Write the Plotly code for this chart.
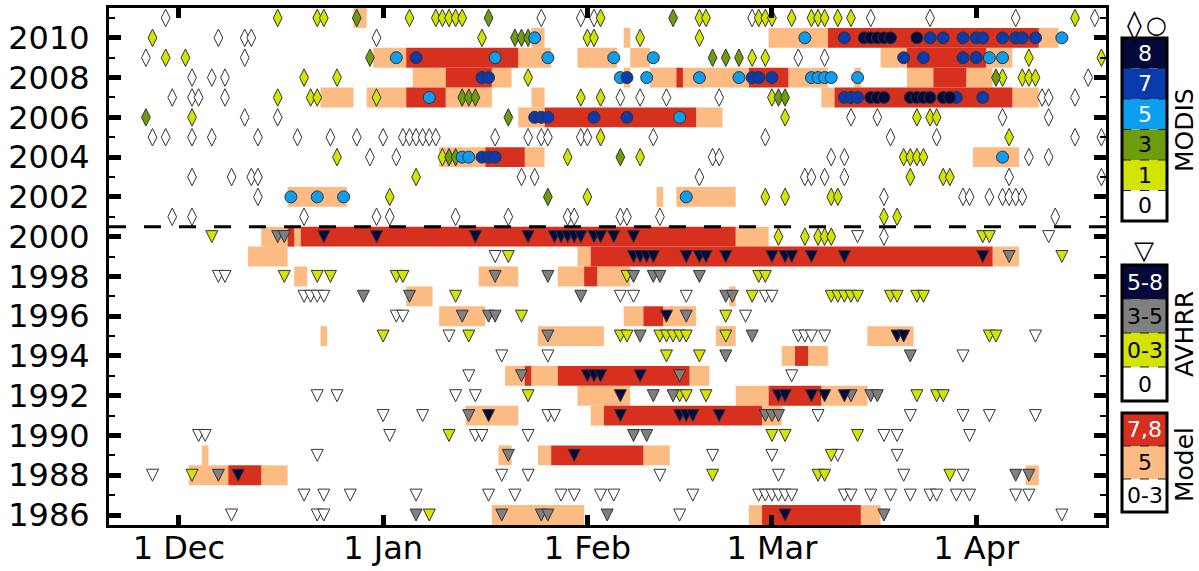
import plotly.graph_objects as go

# ---------------- data (x = days since 1 Dec, y = season year) ----------------
# MODIS classes (diamonds 0/1/3, circles 5/7/8)
modis_0 = {
    2011: [-2, 55, 61, 63, 87, 105, 114, 127, 139],
    2010: [6, 10, 11, 30],
    2009: [-5, 10, 94, 98],
    2008: [2, 5, 7, 138],
    2007: [-1, 2, 3, 7, 67, 70, 74, 82, 131, 132, 136],
    2006: [10, 15, 102, 106, 125, 132],
    2005: [-4, -2, 2, 5, 12, 18, 23, 27, 31, 34, 35, 36, 37, 38, 39, 48, 53, 55, 56,
           61, 62, 72, 89, 108, 115, 136, 140],
    2004: [29, 33, 81, 82, 99, 101, 129, 132],
    2003: [2, 8, 11, 12, 52, 54, 79, 95, 96, 98, 101, 126, 140],
    2002: [12, 107, 119, 120, 123, 125, 126, 127, 128],
    2001: [-1, 2, 19, 30, 32, 42, 50, 59, 60, 67, 68, 73, 133],
    2000: [107],
}
modis_1 = {
    2011: [15, 21, 22, 35, 39, 40, 41, 42, 43, 64, 79, 80, 88, 89, 90, 93, 96, 97, 98,
           100, 102, 136],
    2010: [-4, 46, 62, 63, 70, 79],
    2009: [-2, 1, 87, 89, 129, 140],
    2008: [19, 24, 53, 125, 128, 129, 130],
    2007: [15, 20, 21, 30, 61, 64, 90],
    2006: [2, 92, 112, 114, 115],
    2005: [64, 126],
    2004: [24, 40, 59, 70, 110, 111, 112, 113],
    2003: [36, 111, 116, 117],
    2002: [32, 62, 89, 92, 99, 100],
    2001: [107, 109],
    2000: [91, 95, 97, 98, 99],
}
modis_3 = {
    2011: [27, 47, 75],
    2010: [51, 52, 53],
    2009: [29, 81, 83, 85],
    2008: [124],
    2007: [43, 44, 45, 91, 92],
    2006: [-5, 50],
    2004: [41, 42, 67],
    2002: [56],
}
modis_5 = {
    2010: [54, 95, 134],
    2009: [33, 48, 56, 66, 72, 123, 125],
    2008: [67, 71, 79, 85, 96, 97, 98, 99, 103],
    2007: [38],
    2006: [76],
    2004: [43, 44, 125],
    2002: [17, 21, 25, 77],
}
modis_7 = {
    2010: [101, 114, 116, 119, 121, 122, 125, 127, 128, 130],
    2009: [36, 110, 113, 119, 121],
    2008: [46, 47, 68, 87, 88, 90],
    2007: [101, 102, 103, 118, 122],
    2006: [54, 55, 56, 63, 68],
    2004: [46, 47, 48],
}
modis_8 = {
    2010: [104, 105, 106, 107, 108, 112],
    2007: [105, 106, 107, 111, 112, 113, 114, 116, 117],
}

# AVHRR classes (triangles)
avhrr_0 = {
    2000: [103, 132],
    1999: [48],
    1998: [6, 7],
    1997: [19, 20, 21, 22, 67, 69, 77, 89, 90],
    1996: [33, 34, 86],
    1995: [41, 94, 95, 96, 98, 130],
    1994: [49, 56, 119],
    1993: [44, 93],
    1992: [21, 24, 42, 45],
    1991: [31, 37, 56, 57, 97, 111, 119, 123, 130],
    1990: [3, 4, 32, 45, 46, 53, 107, 109, 120],
    1989: [21, 81, 90, 100, 109],
    1988: [-4, 49, 53, 73, 91, 110, 119],
    1987: [19, 22, 26, 36, 47, 51, 58, 60, 64, 66, 78, 88, 89, 90, 91, 92, 93, 101, 102,
           105, 108, 111, 114, 115, 118, 120, 127, 129],
    1986: [8, 21, 22, 76, 134],
}
avhrr_03 = {
    2000: [5, 122, 123],
    1999: [50, 134],
    1998: [16, 21, 23, 33, 34, 68, 88, 89],
    1997: [42, 87, 99, 100, 101, 102, 103, 108, 109, 112, 113],
    1996: [52, 83],
    1995: [31, 44, 67, 68, 73, 74, 75, 76, 77, 83, 123, 124],
    1994: [74, 79],
    1992: [53, 76, 77, 80, 112, 115, 116],
    1990: [41, 90, 92, 103],
    1989: [99],
    1988: [2, 81, 97, 98, 117],
    1986: [38],
}
avhrr_35 = {
    2000: [15, 16],
    1999: [126],
    1998: [48, 56, 69, 72, 73, 79],
    1997: [28, 35, 61, 83, 84],
    1996: [43, 47, 48, 77],
    1995: [56, 70, 87],
    1994: [83, 111],
    1993: [52, 76],
    1992: [72, 75, 102, 105, 106],
    1991: [44, 89, 90, 91],
    1990: [69, 71],
    1989: [50],
    1988: [6, 127, 129],
    1986: [36, 49, 55, 56, 65, 107],
}
avhrr_58 = {
    2000: [22, 30, 45, 53, 57, 58, 59, 60, 61, 63, 64, 66, 69],
    1999: [69, 70, 71, 72, 77, 79, 80, 83, 90, 92, 93, 96, 101, 122],
    1996: [74],
    1995: [109, 110],
    1993: [62, 63, 64, 70],
    1992: [67, 91, 92, 96, 98, 101],
    1991: [47, 67, 76, 77, 78, 82],
    1989: [60],
    1988: [9],
    1986: [92],
}

# Model classes: inclusive day ranges
model_5 = {
    2011: [(27, 28)],
    2010: [(54, 55), (68, 68), (90, 98), (131, 133)],
    2009: [(30, 34), (52, 56), (61, 66), (69, 71), (107, 110), (123, 126)],
    2008: [(36, 40), (48, 50), (68, 68), (72, 75), (77, 86), (93, 98), (103, 103),
           (111, 114), (120, 123)],
    2007: [(22, 26), (29, 34), (41, 47), (54, 55), (98, 99), (127, 130)],
    2006: [(52, 55), (79, 82)],
    2004: [(40, 46), (53, 55), (121, 127)],
    2002: [(17, 25), (73, 73), (76, 84)],
    2000: [(13, 16), (18, 18), (85, 89)],
    1999: [(11, 16), (61, 62), (124, 127)],
    1998: [(18, 19), (46, 51), (58, 61), (64, 68)],
    1997: [(35, 38), (84, 84)],
    1996: [(40, 46), (68, 70), (74, 78)],
    1995: [(22, 22), (55, 64), (82, 84), (105, 111)],
    1994: [(92, 93), (96, 98)],
    1993: [(50, 52), (54, 57), (78, 80)],
    1992: [(61, 68), (85, 89), (98, 104)],
    1991: [(44, 51), (63, 64), (89, 91)],
    1989: [(4, 4), (49, 50), (55, 56), (71, 74)],
    1988: [(2, 7), (13, 16), (129, 130)],
    1986: [(48, 61), (87, 88), (104, 106)],
}
model_78 = {
    2010: [(99, 130)],
    2009: [(35, 51), (111, 122)],
    2008: [(41, 47), (76, 76), (87, 92), (115, 119)],
    2007: [(35, 40), (100, 126)],
    2006: [(56, 78)],
    2004: [(47, 52)],
    2000: [(17, 17), (19, 84)],
    1999: [(63, 123)],
    1998: [(62, 63)],
    1996: [(71, 73)],
    1994: [(94, 95)],
    1993: [(53, 53), (58, 77)],
    1992: [(90, 97)],
    1991: [(65, 88)],
    1989: [(57, 70)],
    1988: [(8, 12)],
    1986: [(89, 103)],
}

month_ticks = [0, 31, 62, 90, 121]
month_labels = ["1 Dec", "1 Jan", "1 Feb", "1 Mar", "1 Apr"]
sensor_break = 2000.5

# ---------------- styling ----------------
NAVY = "#05083a"
BLUE7 = "#0b3aac"
LBLUE = "#0c9ef0"
OLIVE = "#6e9c0c"
YELLOW = "#d3e400"
GRAY = "#808080"
RED = "#d7301f"
PEACH = "#fdbb84"
EDGE = "#333333"
FONT = "DejaVu Sans"

W, H = 1199, 571
ML, MR, MT, MB = 109, 93, 8, 46
PW = W - ML - MR
PH = H - MT - MB


def fx(px):
    return (px - ML) / PW


def fy(py):
    return (H - MB - py) / PH


fig = go.Figure()


def bar_trace(segs, color):
    ys, bases, lens = [], [], []
    for yr, lst in segs.items():
        for s, e in lst:
            ys.append(yr)
            bases.append(s - 0.5)
            lens.append(e - s + 1)
    return go.Bar(y=ys, x=lens, base=bases, orientation="h", width=1.0,
                  marker=dict(color=color, line=dict(width=0)),
                  showlegend=False, hoverinfo="skip")


fig.add_trace(bar_trace(model_5, PEACH))
fig.add_trace(bar_trace(model_78, RED))


def marker_trace(d, symbol, color, size, off=0.0):
    xs, ys = [], []
    for yr, lst in d.items():
        for v in lst:
            xs.append(v)
            ys.append(yr + off)
    return go.Scatter(x=xs, y=ys, mode="markers",
                      marker=dict(symbol=symbol, color=color, size=size,
                                  line=dict(color=EDGE, width=1)),
                      showlegend=False, hoverinfo="skip")


TRI_OFF = -0.30  # arrow-down marker is anchored at its tip
for d, c in [(avhrr_0, "white"), (avhrr_03, YELLOW), (avhrr_35, GRAY), (avhrr_58, NAVY)]:
    fig.add_trace(marker_trace(d, "arrow-down", c, 12, TRI_OFF))
for d, c in [(modis_0, "white"), (modis_1, YELLOW), (modis_3, OLIVE)]:
    fig.add_trace(marker_trace(d, "diamond-tall", c, 12.5))
for d, c in [(modis_5, LBLUE), (modis_7, BLUE7), (modis_8, NAVY)]:
    fig.add_trace(marker_trace(d, "circle", c, 12))

shapes = []
annotations = []

# dashed separator between AVHRR and MODIS eras
shapes.append(dict(type="line", xref="paper", x0=0, x1=1, yref="y",
                   y0=sensor_break, y1=sensor_break,
                   line=dict(color="black", width=3, dash="17px,18px"), layer="above"))

# ---------------- legend boxes ----------------
BX0, BX1 = 1122, 1167


def legend_box(top, bottom, items):
    n = len(items)
    h = (bottom - top) / n
    for i, (lab, col, tcol) in enumerate(items):
        y0 = top + i * h
        y1 = y0 + h
        shapes.append(dict(type="rect", xref="paper", yref="paper",
                           x0=fx(BX0), x1=fx(BX1), y0=fy(y1), y1=fy(y0),
                           fillcolor=col, line=dict(width=0), layer="above"))
        annotations.append(dict(xref="paper", yref="paper", x=fx((BX0 + BX1) / 2),
                                y=fy((y0 + y1) / 2), text=lab, showarrow=False,
                                xanchor="center", yanchor="middle",
                                font=dict(family=FONT, size=22, color=tcol)))
        if i > 0:
            shapes.append(dict(type="line", xref="paper", yref="paper",
                               x0=fx(BX0), x1=fx(BX1), y0=fy(y0), y1=fy(y0),
                               line=dict(color="#222222", width=1, dash="dash"),
                               layer="above"))
    shapes.append(dict(type="rect", xref="paper", yref="paper",
                       x0=fx(BX0), x1=fx(BX1), y0=fy(bottom), y1=fy(top),
                       line=dict(color="black", width=3), layer="above"))


legend_box(38, 221, [("8", NAVY, "white"), ("7", BLUE7, "white"), ("5", LBLUE, "white"),
                     ("3", OLIVE, "black"), ("1", YELLOW, "black"), ("0", "white", "black")])
legend_box(265, 401, [("5-8", NAVY, "white"), ("3-5", GRAY, "black"),
                      ("0-3", YELLOW, "black"), ("0", "white", "black")])
legend_box(413, 512, [("7,8", RED, "white"), ("5", PEACH, "black"), ("0-3", "white", "black")])

for txt, x, y, sz in [("◊", 1134, 25, 30), ("○", 1156, 25, 24), ("▽", 1144, 250, 26)]:
    annotations.append(dict(xref="paper", yref="paper", x=fx(x), y=fy(y), text=txt,
                            showarrow=False, xanchor="center", yanchor="middle",
                            font=dict(family=FONT, size=sz, color="black")))
for txt, y in [("MODIS", 130), ("AVHRR", 334), ("Model", 465)]:
    annotations.append(dict(xref="paper", yref="paper", x=fx(1184), y=fy(y), text=txt,
                            showarrow=False, textangle=-90, xanchor="center",
                            yanchor="middle",
                            font=dict(family=FONT, size=25, color="black")))

fig.update_layout(
    width=W, height=H,
    margin=dict(l=ML, r=MR, t=MT, b=MB, pad=0, autoexpand=False),
    paper_bgcolor="white", plot_bgcolor="white",
    barmode="overlay",
    showlegend=False,
    shapes=shapes,
    annotations=annotations,
    font=dict(family=FONT, color="black"),
    xaxis=dict(range=[-10.6, 140.7], tickmode="array", tickvals=month_ticks,
               ticktext=month_labels, ticks="inside", ticklen=10, tickwidth=5,
               tickcolor="black", showline=True, linewidth=3, linecolor="black",
               mirror="ticks", showgrid=False, zeroline=False, automargin=False,
               tickfont=dict(family=FONT, size=32, color="black"),
               ticklabelstandoff=-7),
    yaxis=dict(range=[1985.5, 2011.5], tickmode="linear", tick0=1986, dtick=2,
               ticks="inside", ticklen=12, tickwidth=5, tickcolor="black",
               showline=True, linewidth=3, linecolor="black", mirror="ticks",
               showgrid=False, zeroline=False, automargin=False,
               minor=dict(ticks="inside", ticklen=6, tickwidth=2, dtick=1,
                          tick0=1985, tickcolor="black", showgrid=False),
               tickfont=dict(family=FONT, size=32, color="black"),
               ticklabelstandoff=10),
)

fig.write_html("out.html")
